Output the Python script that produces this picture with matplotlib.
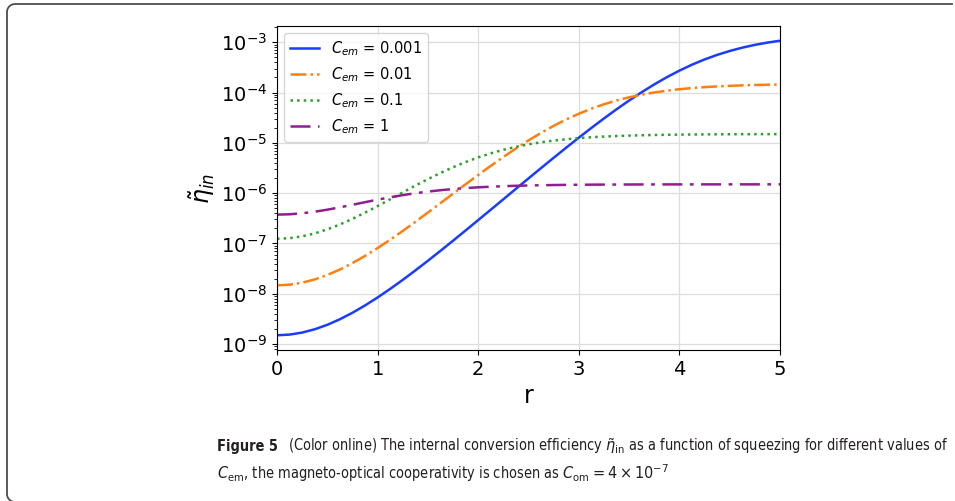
import matplotlib
matplotlib.use("Agg")
import numpy as np
import matplotlib.pyplot as plt
from matplotlib.lines import Line2D
from matplotlib import font_manager
from matplotlib.font_manager import FontProperties

# squeezing parameter r and the internal conversion efficiency
r = [0.0, 0.125, 0.25, 0.375, 0.5, 0.625, 0.75, 0.875, 1.0, 1.125, 1.25, 1.375,
     1.5, 1.625, 1.75, 1.875, 2.0, 2.125, 2.25, 2.375, 2.5, 2.625, 2.75, 2.875,
     3.0, 3.125, 3.25, 3.375, 3.5, 3.625, 3.75, 3.875, 4.0, 4.125, 4.25, 4.375,
     4.5, 4.625, 4.75, 4.875, 5.0]

eta_0001 = [1.497e-9, 1.544e-9, 1.694e-9, 1.970e-9, 2.419e-9, 3.120e-9, 4.200e-9,
            5.870e-9, 8.464e-9, 1.2527e-8, 1.894e-8, 2.913e-8, 4.543e-8, 7.161e-8,
            1.138e-7, 1.8194e-7, 2.922e-7, 4.705e-7, 7.587e-7, 1.2234e-6, 1.970e-6,
            3.164e-6, 5.062e-6, 8.049e-6, 1.270e-5, 1.9854e-5, 3.065e-5, 4.662e-5,
            6.964e-5, 1.0190e-4, 1.456e-4, 2.0252e-4, 2.737e-4, 3.589e-4, 4.560e-4,
            5.621e-4, 6.725e-4, 7.827e-4, 8.885e-4, 9.864e-4, 1.074e-3]
eta_001 = [1.470e-8, 1.5165e-8, 1.662e-8, 1.930e-8, 2.365e-8, 3.040e-8, 4.077e-8,
           5.666e-8, 8.114e-8, 1.1900e-7, 1.778e-7, 2.695e-7, 4.124e-7, 6.347e-7,
           9.785e-7, 1.5061e-6, 2.306e-6, 3.500e-6, 5.247e-6, 7.742e-6, 1.120e-5,
           1.5841e-5, 2.183e-5, 2.9236e-5, 3.801e-5, 4.792e-5, 5.863e-5, 6.968e-5,
           8.061e-5, 9.103e-5, 1.006e-4, 1.0918e-4, 1.166e-4, 1.2297e-4, 1.283e-4,
           1.3266e-4, 1.362e-4, 1.3910e-4, 1.414e-4, 1.4324e-4, 1.447e-4]
eta_01 = [1.240e-7, 1.2753e-7, 1.387e-7, 1.5890e-7, 1.909e-7, 2.389e-7, 3.091e-7,
          4.105e-7, 5.548e-7, 7.574e-7, 1.0365e-6, 1.4123e-6, 1.904e-6, 2.525e-6,
          3.281e-6, 4.164e-6, 5.151e-6, 6.206e-6, 7.288e-6, 8.352e-6, 9.360e-6,
          1.0284e-5, 1.1106e-5, 1.1820e-5, 1.2427e-5, 1.2933e-5, 1.3351e-5, 1.3691e-5,
          1.3965e-5, 1.4184e-5, 1.4358e-5, 1.4497e-5, 1.4606e-5, 1.4691e-5, 1.4759e-5,
          1.4812e-5, 1.4853e-5, 1.4885e-5, 1.4911e-5, 1.4930e-5, 1.4946e-5]
eta_1 = [3.750e-7, 3.809e-7, 3.985e-7, 4.282e-7, 4.700e-7, 5.237e-7, 5.884e-7,
         6.627e-7, 7.439e-7, 8.291e-7, 9.149e-7, 9.981e-7, 1.0760e-6, 1.1467e-6,
         1.2091e-6, 1.2630e-6, 1.3086e-6, 1.3465e-6, 1.3776e-6, 1.4029e-6, 1.4233e-6,
         1.4396e-6, 1.4525e-6, 1.4628e-6, 1.4708e-6, 1.4772e-6, 1.4822e-6, 1.4861e-6,
         1.4891e-6, 1.4915e-6, 1.4934e-6, 1.4949e-6, 1.4960e-6, 1.4969e-6, 1.4976e-6,
         1.4981e-6, 1.4985e-6, 1.4988e-6, 1.4991e-6, 1.4993e-6, 1.4995e-6]

labels = ["$C_{em}$ = 0.001", "$C_{em}$ = 0.01", "$C_{em}$ = 0.1", "$C_{em}$ = 1"]
fig_label = "Figure 5"
caption1 = r"(Color online) The internal conversion efficiency $\tilde{\eta}_{\rm in}$ as a function of squeezing for different values of"
caption2 = r"$C_{\rm em}$, the magneto-optical cooperativity is chosen as $C_{\rm om} = 4\times10^{-7}$"


def pick_caption_fonts():
    # look for a condensed sans face, otherwise fall back to Open Sans
    prefs = ["Open Sans", "Noto Sans", "Roboto", "DejaVu Sans", "Liberation Sans Narrow",
             "Roboto Condensed", "Open Sans Condensed", "Noto Sans Condensed"]
    narrow = ("condensed", "semi-condensed", "extra-condensed")
    for fam in prefs:
        reg = bold = None
        for f in font_manager.fontManager.ttflist:
            if f.name != fam or f.style != "normal":
                continue
            if f.stretch not in narrow and "Narrow" not in fam and "Condensed" not in fam:
                continue
            w = f.weight if isinstance(f.weight, int) else font_manager.weight_dict.get(f.weight, 400)
            if w == 400 and reg is None:
                reg = f.fname
            if w == 700 and bold is None:
                bold = f.fname
        if reg:
            return (FontProperties(fname=reg),
                    FontProperties(fname=bold) if bold else FontProperties(fname=reg, weight="bold"))
    return FontProperties(family="Open Sans"), FontProperties(family="Open Sans", weight="bold")


fig = plt.figure(figsize=(9.55, 5.01), dpi=100)
W, H = 955.0, 501.0

# panel frame: top edge, left edge and rounded left corners (pixels, y from top);
# the panel continues past the right and bottom edges of the picture
rad = 8
t = np.linspace(0, np.pi / 2, 12)
cx = 7 + rad - rad * np.sin(t)
cy = 4 + rad - rad * np.cos(t)
px = np.concatenate([[952], cx, cx[::-1], [40]])
py = np.concatenate([[4], cy, (506 - cy)[::-1], [502]])
fig.add_artist(Line2D(px / W, 1 - py / H, transform=fig.transFigure,
                      color="#4d4d4d", linewidth=1.3))

ax = fig.add_axes([0.2901, 0.3014, 0.5267, 0.6467])
ax.plot(r, eta_0001, color="#1a3cff", linestyle="-", linewidth=1.8, label=labels[0])
ax.plot(r, eta_001, color="#ff7f0e", linestyle="-.", linewidth=1.8, label=labels[1])
ax.plot(r, eta_01, color="#2ca02c", linestyle=":", linewidth=1.8, label=labels[2])
ax.plot(r, eta_1, color="#8e1f8e", linestyle=(0, (8, 3, 1.5, 3)), linewidth=1.8, label=labels[3])
ax.set_yscale("log")
ax.set_xlim(0, 5)
ax.set_xticks([0, 1, 2, 3, 4, 5])
ax.grid(True, color="#dddddd", linewidth=0.9)
ax.tick_params(axis="both", which="major", labelsize=14)
ax.set_xlabel("r", fontsize=17)
ax.set_ylabel(r"$\tilde{\eta}_{in}$", fontsize=17, labelpad=3)
ax.legend(loc="upper left", fontsize=10.5)

# caption: bold figure number followed by the text, sized to fill the line
reg_fp, bold_fp = pick_caption_fonts()
size = 12.5
x0 = 217 / W
t_fig = fig.text(x0, 1 - 451 / H, fig_label, fontproperties=bold_fp, color="#231f20")
t_c1 = fig.text(0, 1 - 451 / H, caption1, fontproperties=reg_fp, color="#231f20")
t_c2 = fig.text(x0, 1 - 479 / H, caption2, fontproperties=reg_fp, color="#231f20")
for txt in (t_fig, t_c1, t_c2):
    txt.set_fontsize(size)
fig.canvas.draw()
rend = fig.canvas.get_renderer()
gap = 12
total = t_fig.get_window_extent(rend).width + gap + t_c1.get_window_extent(rend).width
size = min(size, size * (950 - 217) / total)
for txt in (t_fig, t_c1, t_c2):
    txt.set_fontsize(size)
fig.canvas.draw()
fw = t_fig.get_window_extent(rend).width
t_c1.set_x((217 + fw + gap * size / 12.5) / W)

fig.savefig("out.png", dpi=100)
